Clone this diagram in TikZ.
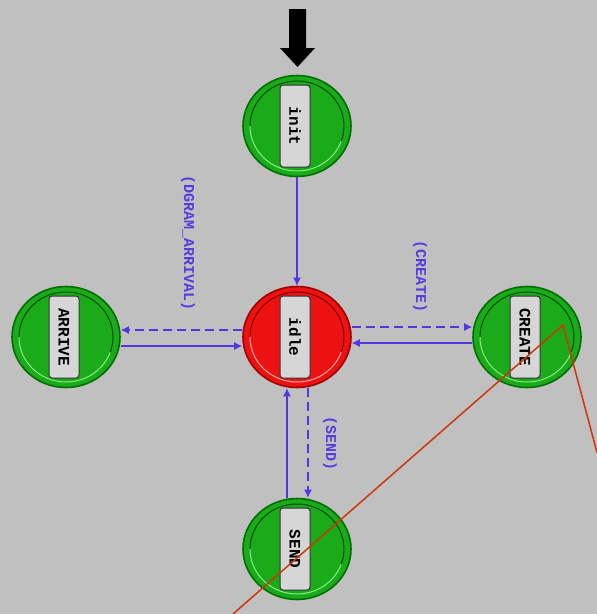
\documentclass[tikz,border=0pt]{standalone}
\usepackage{fontspec}
\setmonofont{Liberation Mono}
\usetikzlibrary{arrows.meta,shapes.geometric,calc}
\definecolor{bg}{RGB}{192,192,192}
\definecolor{stgreen}{RGB}{26,170,26}
\definecolor{stgreenD}{RGB}{0,110,0}
\definecolor{stgreenL}{RGB}{130,240,130}
\definecolor{stred}{RGB}{236,18,18}
\definecolor{stredD}{RGB}{160,0,0}
\definecolor{stredL}{RGB}{255,170,170}
\definecolor{boxgray}{RGB}{214,214,214}
\definecolor{flowc}{RGB}{80,55,225}
\definecolor{labc}{RGB}{85,60,225}
\definecolor{redline}{RGB}{205,55,10}
\begin{document}
\begin{tikzpicture}[x=1pt,y=-1pt,
  state/.style={ellipse, minimum width=108pt, minimum height=101pt, inner sep=0pt,
    fill=stgreen, draw=stgreenD, line width=1.6pt},
  redstate/.style={state, fill=stred, draw=stredD},
  lbl/.style={rectangle, rounded corners=3pt, fill=boxgray, draw=black!80, line width=1pt,
    minimum width=82pt, minimum height=30pt, inner sep=0pt, rotate=-90,
    font=\ttfamily\bfseries\fontsize{16}{16}\selectfont},
  elabel/.style={rotate=-90, inner sep=0pt, text=labc,
    font=\ttfamily\bfseries\fontsize{15}{15}\selectfont},
  flow/.style={draw=flowc, line width=1.2pt, -{Latex[length=8pt,width=8pt]}},
  dflow/.style={flow, dash pattern=on 9pt off 5pt},
  darkarc/.style={line width=1pt},
  lightarc/.style={line width=1pt},
]
\fill[bg] (0,0) rectangle (597,614);
\useasboundingbox (0,0) rectangle (597,614);

% states
\node[state] (init) at (297,126) {};
\node[redstate] (idle) at (297,337) {};
\node[state] (arrive) at (66,337) {};
\node[state] (create) at (527,337) {};
\node[state] (send) at (297,549) {};

% inner bevel arcs
\foreach \n/\dk/\lt in {init/stgreenD!70!black/stgreenL, arrive/stgreenD!70!black/stgreenL,
  create/stgreenD!70!black/stgreenL, send/stgreenD!70!black/stgreenL, idle/stredD!80!black/stredL}{
  \draw[darkarc, draw=\dk] (\n.center) ++(20:47 and 45) arc[start angle=20, end angle=-180, x radius=47, y radius=45];
  \draw[lightarc, draw=\lt] (\n.center) ++(180:47 and 45) arc[start angle=180, end angle=20, x radius=47, y radius=45];
}

% labels
\node[lbl] (initl) at (295,126) {init};
\node[lbl] (idlel) at (295,337) {idle};
\node[lbl] (arrivel) at (64,337) {ARRIVE};
\node[lbl] (createl) at (525,337) {CREATE};
\node[lbl] (sendl) at (295,549) {SEND};

% connectors
\draw[flow] (init) -- (idle);
\draw[dflow] ([yshift=7pt]idle.west) -- ([yshift=7pt]arrive.east);
\draw[flow] ([yshift=-9pt]arrive.east) -- ([yshift=-9pt]idle.west);
\draw[dflow] ([yshift=10pt]idle.east) -- ([yshift=10pt]create.west);
\draw[flow] ([yshift=-6pt]create.west) -- ([yshift=-6pt]idle.east);
\draw[dflow] ([xshift=11pt]idle.south) -- ([xshift=11pt]send.north);
\draw[flow] ([xshift=-10pt]send.north) -- ([xshift=-10pt]idle.south);

% transition labels
\node[elabel] (larr) at (188,243) {(DGRAM\_ARRIVAL)};
\node[elabel] (lcre) at (420,277) {(CREATE)};
\node[elabel] (lsend) at (330,443) {(SEND)};

% initial marker
\fill[black] (289,9) -- (306,9) -- (306,48) -- (315,48) -- (297.5,67) -- (280,48) -- (289,48) -- cycle;

% red strokes
\draw[redline, line width=1.5pt] (233,614) -- (563,325) -- (597,452.5);
\end{tikzpicture}
\end{document}
